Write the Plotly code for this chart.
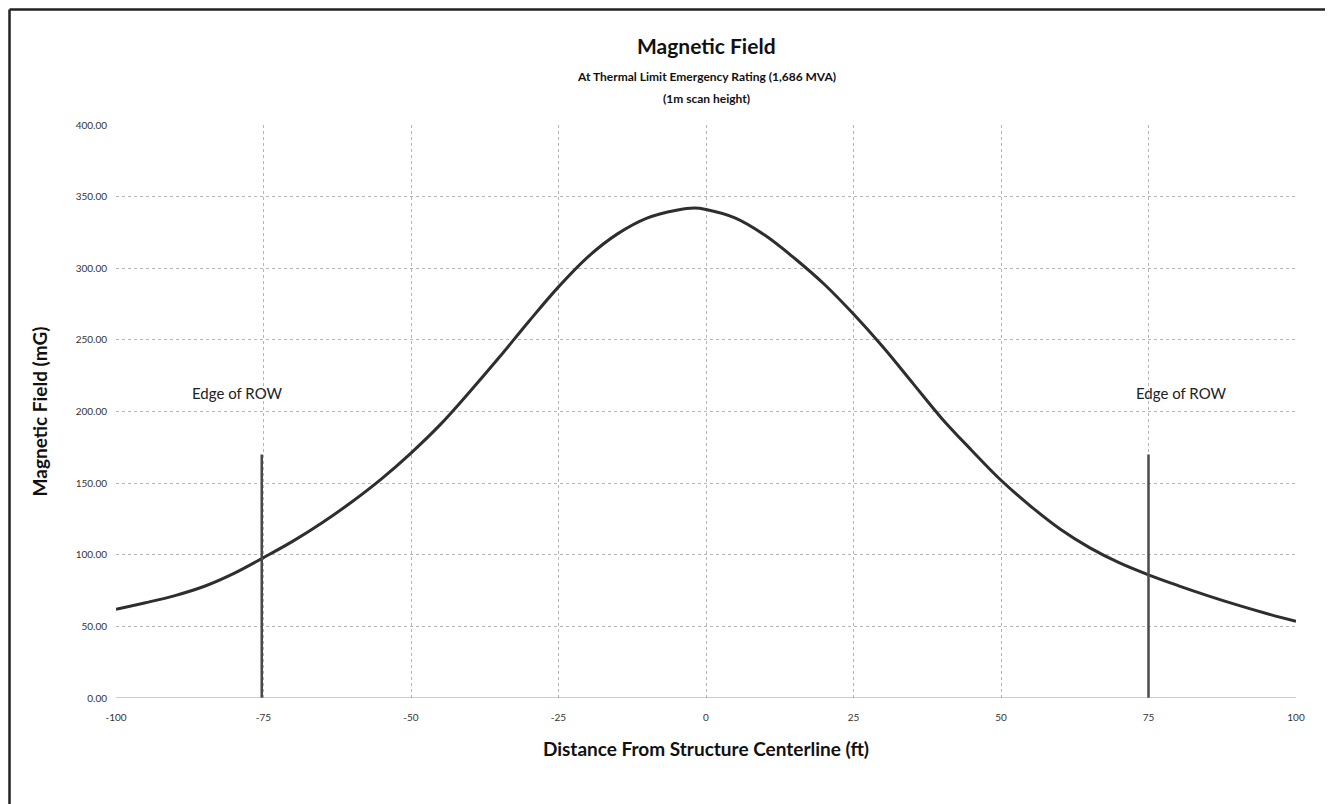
import plotly.graph_objects as go

# Data
distance_ft = [-100, -95, -90, -85, -80, -75, -70, -65, -60, -55, -50, -45, -40, -35, -30,
               -25, -20, -15, -10, -5, -2, 0, 5, 10, 15, 20, 25, 30, 35, 40, 45, 50, 55,
               60, 65, 70, 75, 80, 85, 90, 95, 100]
field_mG = [62, 66.5, 71.5, 78, 87, 98, 109.5, 122.5, 137, 153, 171, 191, 214, 238, 263,
            287, 308, 324, 335, 340.5, 342, 341, 335, 323, 307, 289, 268, 245, 220, 195, 173, 152, 134,
            118, 105, 94.5, 86, 78.5, 71.5, 65, 59, 53.5]

row_edges_ft = [-75.3, 75]
row_marker_top = 170
row_label = "Edge of ROW"
row_label_x = [-79.5, 80.5]
row_label_y = 213

x_ticks = [-100, -75, -50, -25, 0, 25, 50, 75, 100]
y_ticks = [0, 50, 100, 150, 200, 250, 300, 350, 400]

title = "Magnetic Field"
subtitle1 = "At Thermal Limit Emergency Rating (1,686 MVA)"
subtitle2 = "(1m scan height)"
x_title = "Distance From Structure Centerline (ft)"
y_title = "Magnetic Field (mG)"

FONT = "Lato, 'Open Sans', sans-serif"

# plot area size in px (for paper-coordinate placement)
PW, PH = 1180, 573

fig = go.Figure()

fig.add_trace(go.Scatter(
    x=distance_ft, y=field_mG, mode="lines",
    line=dict(color="#2e2e2e", width=3, shape="spline", smoothing=1.0),
    showlegend=False, hoverinfo="x+y",
))

for xe in row_edges_ft:
    fig.add_trace(go.Scatter(
        x=[xe, xe], y=[0, row_marker_top], mode="lines",
        line=dict(color="#4a4a4a", width=2.5),
        showlegend=False, hoverinfo="skip",
    ))

for xl in row_label_x:
    fig.add_annotation(x=xl, y=row_label_y, text=row_label, showarrow=False,
                       font=dict(family=FONT, size=15, color="#222"))

# Titles (screen y -> paper y relative to plot area top at 125, bottom at 698)
def py(screen_y):
    return (698 - screen_y) / PH

fig.add_annotation(xref="paper", yref="paper", x=0.5, y=py(46), text="<b>" + title + "</b>",
                   showarrow=False, font=dict(family=FONT, size=21, color="#111"),
                   yanchor="middle")
fig.add_annotation(xref="paper", yref="paper", x=0.5, y=py(77), text="<b>" + subtitle1 + "</b>",
                   showarrow=False, font=dict(family=FONT, size=12, color="#111"),
                   yanchor="middle")
fig.add_annotation(xref="paper", yref="paper", x=0.5, y=py(98), text="<b>" + subtitle2 + "</b>",
                   showarrow=False, font=dict(family=FONT, size=12, color="#111"),
                   yanchor="middle")

# Outer frame lines (left and top)
fx0 = (9.5 - 116) / PW
fig.add_shape(type="line", xref="paper", yref="paper",
              x0=fx0, x1=(1345 - 116) / PW, y0=py(9.6), y1=py(9.6),
              line=dict(color="#222", width=2.5))
fig.add_shape(type="line", xref="paper", yref="paper",
              x0=fx0, x1=fx0, y0=py(9.6), y1=py(815),
              line=dict(color="#222", width=2.5))

fig.update_layout(
    width=1333, height=804,
    margin=dict(l=108, r=45, t=117, b=114),
    paper_bgcolor="white", plot_bgcolor="white",
    font=dict(family=FONT, color="#222"),
    xaxis=dict(
        range=[-100, 100], tickvals=x_ticks, ticktext=[str(v) for v in x_ticks],
        showgrid=True, gridcolor="#b5b5b5", griddash="dot", gridwidth=1,
        zeroline=False, showline=False, ticks="",
        tickfont=dict(family=FONT, size=10, color="#333"),
        ticklabelstandoff=12,
        title=dict(text="<b>" + x_title + "</b>", font=dict(family=FONT, size=19, color="#111"),
                   standoff=20),
    ),
    yaxis=dict(
        range=[0, 400], tickvals=y_ticks, tickformat=".2f",
        showgrid=True, gridcolor="#b5b5b5", griddash="dot", gridwidth=1,
        zeroline=False, showline=False, ticks="",
        tickfont=dict(family=FONT, size=10, color="#333"),
        ticklabelstandoff=8,
        title=dict(text="<b>" + y_title + "</b>", font=dict(family=FONT, size=19, color="#111"),
                   standoff=22),
    ),
)

fig.add_shape(type="line", xref="paper", yref="y", x0=0, x1=1, y0=0, y1=0,
              line=dict(color="#999", width=1.2))

fig.write_html("out.html")
